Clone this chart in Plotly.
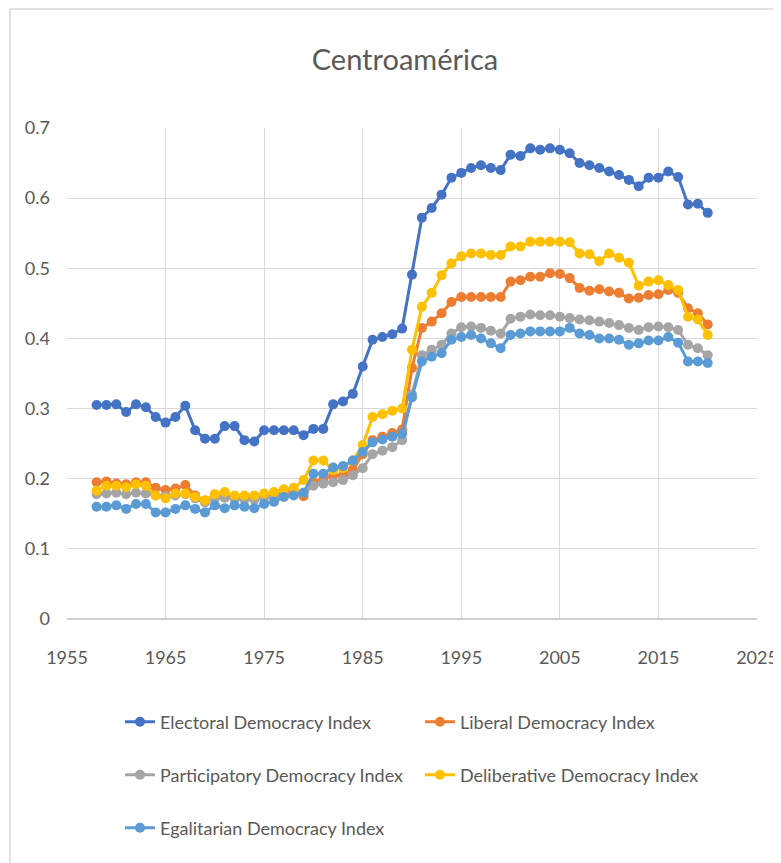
import plotly.graph_objects as go

years = list(range(1958, 2021))

electoral = [
    0.305, 0.305, 0.306, 0.295, 0.306, 0.302, 0.288, 0.280, 0.288, 0.304,
    0.269, 0.257, 0.257, 0.275, 0.275, 0.255, 0.253, 0.269, 0.269, 0.269,
    0.269, 0.262, 0.271, 0.271, 0.306, 0.310, 0.321, 0.360, 0.398, 0.402,
    0.406, 0.414, 0.491, 0.572, 0.586, 0.605, 0.629, 0.636, 0.643, 0.647,
    0.643, 0.640, 0.662, 0.660, 0.671, 0.669, 0.671, 0.669, 0.664, 0.650,
    0.647, 0.643, 0.638, 0.633, 0.626, 0.617, 0.629, 0.629, 0.638, 0.630,
    0.591, 0.592, 0.579,
]
liberal = [
    0.195, 0.196, 0.193, 0.192, 0.195, 0.195, 0.187, 0.184, 0.186, 0.191,
    0.176, 0.169, 0.175, 0.176, 0.173, 0.172, 0.172, 0.175, 0.176, 0.180,
    0.182, 0.175, 0.195, 0.200, 0.204, 0.205, 0.213, 0.235, 0.255, 0.260,
    0.265, 0.270, 0.358, 0.415, 0.424, 0.436, 0.452, 0.459, 0.459, 0.459,
    0.459, 0.459, 0.481, 0.483, 0.488, 0.488, 0.493, 0.492, 0.486, 0.472,
    0.468, 0.470, 0.467, 0.465, 0.457, 0.458, 0.462, 0.463, 0.469, 0.465,
    0.443, 0.436, 0.420,
]
participatory = [
    0.178, 0.179, 0.180, 0.178, 0.180, 0.179, 0.176, 0.175, 0.176, 0.178,
    0.172, 0.166, 0.172, 0.173, 0.171, 0.170, 0.170, 0.172, 0.174, 0.176,
    0.178, 0.180, 0.190, 0.193, 0.195, 0.198, 0.205, 0.215, 0.235, 0.240,
    0.245, 0.255, 0.320, 0.376, 0.384, 0.391, 0.407, 0.416, 0.417, 0.415,
    0.411, 0.407, 0.428, 0.431, 0.434, 0.433, 0.433, 0.431, 0.429, 0.427,
    0.426, 0.424, 0.422, 0.419, 0.415, 0.412, 0.416, 0.417, 0.416, 0.412,
    0.391, 0.386, 0.376,
]
deliberative = [
    0.183, 0.190, 0.190, 0.188, 0.192, 0.190, 0.176, 0.172, 0.179, 0.179,
    0.174, 0.169, 0.178, 0.181, 0.176, 0.176, 0.176, 0.179, 0.181, 0.185,
    0.187, 0.198, 0.226, 0.226, 0.212, 0.215, 0.226, 0.248, 0.288, 0.292,
    0.297, 0.300, 0.384, 0.445, 0.465, 0.490, 0.507, 0.517, 0.521, 0.521,
    0.519, 0.519, 0.531, 0.531, 0.538, 0.538, 0.538, 0.538, 0.537, 0.521,
    0.520, 0.510, 0.521, 0.515, 0.508, 0.475, 0.481, 0.483, 0.476, 0.469,
    0.431, 0.427, 0.405,
]
egalitarian = [
    0.160, 0.160, 0.162, 0.157, 0.164, 0.164, 0.152, 0.152, 0.157, 0.162,
    0.157, 0.152, 0.162, 0.158, 0.162, 0.160, 0.158, 0.164, 0.167, 0.174,
    0.176, 0.180, 0.207, 0.207, 0.216, 0.218, 0.226, 0.238, 0.252, 0.256,
    0.260, 0.264, 0.316, 0.367, 0.374, 0.379, 0.398, 0.402, 0.405, 0.400,
    0.393, 0.386, 0.405, 0.407, 0.410, 0.410, 0.410, 0.410, 0.415, 0.407,
    0.405, 0.400, 0.400, 0.398, 0.391, 0.393, 0.397, 0.397, 0.402, 0.394,
    0.367, 0.367, 0.365,
]

series_names = [
    "Electoral Democracy Index",
    "Liberal Democracy Index",
    "Participatory Democracy Index",
    "Deliberative Democracy Index",
    "Egalitarian Democracy Index",
]
series_values = [electoral, liberal, participatory, deliberative, egalitarian]
colors = ["#4472C4", "#ED7D31", "#A5A5A5", "#FFC000", "#5B9BD5"]

title_text = "Centroamérica"
x_ticks = [1955, 1965, 1975, 1985, 1995, 2005, 2015, 2025]
y_ticks = [0, 0.1, 0.2, 0.3, 0.4, 0.5, 0.6, 0.7]

FONT = "Lato, sans-serif"
OFF = 8                      # page body margin offset
W, H = 781 - OFF, 863 - OFF  # figure fills the rest of the window

# plot area in window pixels
PL, PR, PT, PB = 67, 757, 128, 619
ml, mr, mt, mb = PL - OFF, W - (PR - OFF), PT - OFF, H - (PB - OFF)
pw, ph = PR - PL, PB - PT

def px(xw):   # window x -> paper x
    return (xw - PL) / pw

def py(yw):   # window y -> paper y
    return (PB - yw) / ph

# legend positions (window pixels: left x, center y)
legend_pos = [(120, 722), (420, 722), (120, 775), (420, 775), (120, 828)]
legend_ids = ["legend", "legend2", "legend3", "legend4", "legend5"]

fig = go.Figure()
for name, vals, col, lid in zip(series_names, series_values, colors, legend_ids):
    fig.add_trace(go.Scatter(
        x=years, y=vals, name=name, mode="lines+markers",
        line=dict(color=col, width=3),
        marker=dict(color=col, size=10, symbol="circle"),
        legend=lid,
    ))

layout_legends = {}
for lid, (lx, ly) in zip(legend_ids, legend_pos):
    layout_legends[lid] = dict(
        x=(lx - OFF) / W, y=1 - (ly - OFF) / H, xref="container", yref="container",
        xanchor="left", yanchor="middle", bgcolor="rgba(0,0,0,0)",
        font=dict(family=FONT, size=18, color="#595959"),
    )

fig.update_layout(
    width=W, height=H,
    paper_bgcolor="white", plot_bgcolor="white",
    margin=dict(l=ml, r=mr, t=mt, b=mb, autoexpand=False),
    title=dict(text=title_text, x=(405 - OFF) / W, xanchor="center",
               y=1 - (60 - OFF) / H, yanchor="middle",
               font=dict(family=FONT, size=29, color="#595959")),
    showlegend=True,
    **layout_legends,
    xaxis=dict(range=[1955, 2025], tickvals=x_ticks, ticktext=[str(v) for v in x_ticks],
               showgrid=True, gridcolor="#D9D9D9", gridwidth=1,
               zeroline=False, showline=False,
               tickfont=dict(family=FONT, size=18, color="#595959"),
               ticks="", ticklabelstandoff=26),
    yaxis=dict(range=[0, 0.7], tickvals=y_ticks, ticktext=[f"{v:g}" for v in y_ticks],
               showgrid=True, gridcolor="#D9D9D9", gridwidth=1,
               zeroline=False, showline=False,
               tickfont=dict(family=FONT, size=18, color="#595959"),
               ticks="", ticklabelstandoff=16),
    shapes=[
        dict(type="line", xref="paper", yref="paper", x0=0, x1=1, y0=0, y1=0,
             line=dict(color="#BFBFBF", width=1.5)),
        dict(type="line", xref="paper", yref="paper",
             x0=px(10), x1=px(800), y0=py(9), y1=py(9),
             line=dict(color="#D9D9D9", width=1.5), layer="below"),
        dict(type="line", xref="paper", yref="paper",
             x0=px(10), x1=px(10), y0=py(9), y1=py(900),
             line=dict(color="#D9D9D9", width=1.5), layer="below"),
    ],
)

fig.write_html("out.html")
